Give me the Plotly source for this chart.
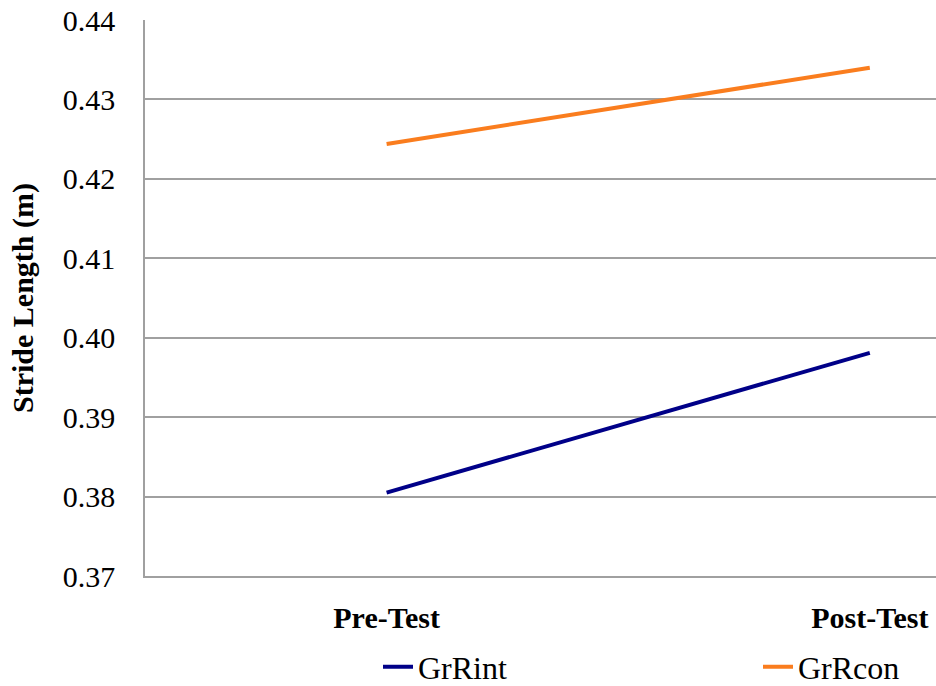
import plotly.graph_objects as go

categories = ["Pre-Test", "Post-Test"]
grrint = [0.3805, 0.3981]
grrcon = [0.4244, 0.4340]
y_ticks = [0.37, 0.38, 0.39, 0.40, 0.41, 0.42, 0.43, 0.44]
y_tick_labels = ["0.37", "0.38", "0.39", "0.40", "0.41", "0.42", "0.43", "0.44"]

W, H = 936, 686
ML, MR, MT, MB = 145, 0, 20, 110
PW = W - ML - MR
PH = H - MT - MB

fig = go.Figure()
fig.add_trace(go.Scatter(x=[0, 1], y=grrint, mode="lines", name="GrRint",
                         line=dict(color="#000088", width=4), legend="legend"))
fig.add_trace(go.Scatter(x=[0, 1], y=grrcon, mode="lines", name="GrRcon",
                         line=dict(color="#FA7D1E", width=4), legend="legend2"))

serif = "Liberation Serif"
leg_y = -(667 - (H - MB)) / PH
leg_common = dict(orientation="h", yanchor="middle", xanchor="left",
                  bgcolor="rgba(0,0,0,0)",
                  font=dict(family=serif, size=32, color="#000"),
                  itemwidth=30, tracegroupgap=0)
fig.update_layout(
    width=W, height=H,
    margin=dict(l=ML, r=MR, t=MT, b=MB, autoexpand=False),
    paper_bgcolor="white", plot_bgcolor="white",
    showlegend=True,
    legend=dict(x=(378 - ML) / PW, y=leg_y, **leg_common),
    legend2=dict(x=(758 - ML) / PW, y=leg_y, **leg_common),
    xaxis=dict(range=[-0.5, 1.137], tickmode="array", tickvals=[0, 1], ticktext=categories,
               showgrid=False, zeroline=False, showline=True, linecolor="#A0A0A0", linewidth=1.5,
               ticks="", ticklabelstandoff=14, automargin=False,
               tickfont=dict(family=serif, size=30, color="#000", weight="bold")),
    yaxis=dict(range=[0.37, 0.44], tickmode="array", tickvals=y_ticks, ticktext=y_tick_labels,
               showgrid=True, gridcolor="#A0A0A0", gridwidth=1.5, zeroline=False,
               showline=True, linecolor="#A0A0A0", linewidth=1.5, ticks="",
               ticklabelstandoff=22, automargin=False,
               tickfont=dict(family=serif, size=30, color="#000"),
               title=dict(text="Stride Length (m)", standoff=20,
                          font=dict(family=serif, size=30, color="#000", weight="bold"))),
)

fig.write_html("out.html", config={"displayModeBar": False},
               post_script="document.body.style.margin='0';document.body.style.overflow='hidden';")
